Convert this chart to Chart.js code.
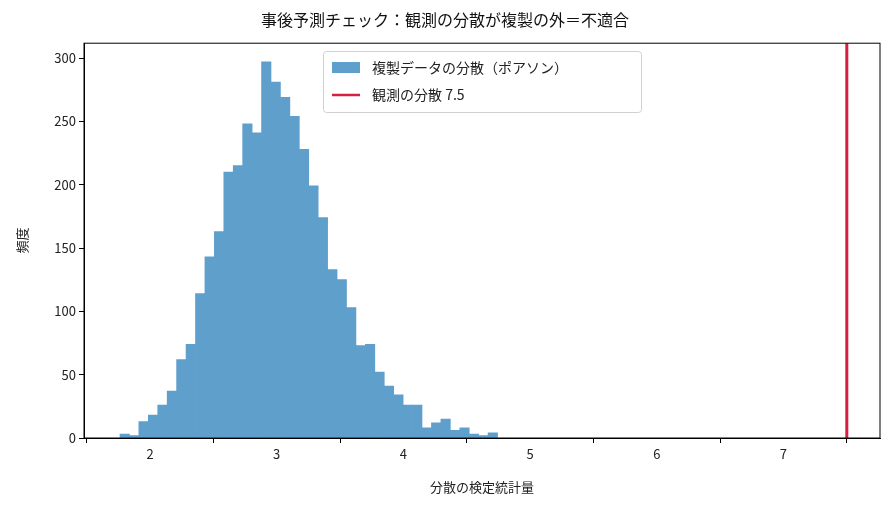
<!DOCTYPE html>
<html><head><meta charset="utf-8">
<script src="https://cdn.jsdelivr.net/npm/chart.js@4"></script>
<style>body{margin:0;background:#fff}#c{display:block}</style>
</head><body>
<div style="width:894px;height:507px"><canvas id="c"></canvas></div>
<script>
const binStart = 1.763;
const binWidth = 0.0745;
const counts = [3,2,13,18,26,37,62,74,114,143,163,210,215,248,241,297,281,269,254,228,
                199,174,133,125,103,73,74,52,41,34,26,26,8,12,15,6,8,3,2,4];
const observedVar = 7.5;
const xTicks = [2,3,4,5,6,7];
const yTicks = [0,50,100,150,200,250,300];

const FONT = '"Noto Sans CJK JP", "Noto Sans", sans-serif';
const histData = counts.map((c, i) => ({x: binStart + binWidth * (i + 0.5), y: c}));

const legendPlugin = {
  id: 'boxLegend',
  afterDraw(chart) {
    const ctx = chart.ctx;
    const a = chart.chartArea;
    ctx.save();
    ctx.strokeStyle = '#000'; ctx.lineWidth = 1;
    ctx.strokeRect(a.left, a.top, a.right - a.left, a.bottom - a.top);
    const x = 323, y = 51, w = 318, h = 61;
    ctx.fillStyle = 'rgba(255,255,255,0.85)';
    ctx.strokeStyle = '#d0d0d0';
    ctx.beginPath(); ctx.roundRect(x + 0.5, y + 0.5, w, h, 3); ctx.fill(); ctx.stroke();
    ctx.fillStyle = '#5f9fcb';
    ctx.fillRect(x + 9, y + 11, 28, 11);
    ctx.strokeStyle = '#d62043'; ctx.lineWidth = 2.5;
    ctx.beginPath(); ctx.moveTo(x + 9, y + 44); ctx.lineTo(x + 37, y + 44); ctx.stroke();
    ctx.fillStyle = '#222'; ctx.font = '14px ' + FONT; ctx.textBaseline = 'middle';
    ctx.fillText('複製データの分散（ポアソン）', x + 49, y + 17);
    ctx.fillText('観測の分散 7.5', x + 49, y + 44);
    ctx.restore();
  }
};

const tickGrid = {display: true, drawOnChartArea: false, drawTicks: true, tickLength: 5, color: '#000'};

new Chart(document.getElementById('c'), {
  type: 'bar',
  data: {
    datasets: [{
      label: '複製データの分散（ポアソン）',
      data: histData,
      backgroundColor: '#5f9fcb',
      barPercentage: 1, categoryPercentage: 1, borderWidth: 0
    }, {
      type: 'line',
      label: '観測の分散 7.5',
      data: [{x: observedVar, y: 0}, {x: observedVar, y: 312}],
      borderColor: '#d62043', borderWidth: 3, pointRadius: 0
    }]
  },
  options: {
    responsive: true, maintainAspectRatio: false, animation: false,
    layout: {padding: {left: 10, right: 14, bottom: 8, top: 0}},
    plugins: {
      legend: {display: false},
      tooltip: {enabled: false},
      title: {display: true, text: '事後予測チェック：観測の分散が複製の外＝不適合',
        color: '#111', font: {family: FONT, size: 16, weight: 'normal'}, padding: {top: 10, bottom: 14}}
    },
    scales: {
      x: {
        type: 'linear', min: 1.479, max: 7.762, offset: false,
        grid: tickGrid,
        border: {color: '#000'},
        afterBuildTicks: s => { s.ticks = xTicks.map(v => ({value: v})); },
        ticks: {color: '#222', font: {family: FONT, size: 13}, maxRotation: 0},
        title: {display: true, text: '分散の検定統計量', color: '#222', font: {family: FONT, size: 13}},
        afterFit: s => { s.height = 61; }
      },
      y: {
        min: 0, max: 311.7,
        grid: tickGrid,
        border: {color: '#000'},
        afterBuildTicks: s => { s.ticks = yTicks.map(v => ({value: v})); },
        ticks: {color: '#222', font: {family: FONT, size: 13}},
        title: {display: true, text: '頻度', color: '#222', font: {family: FONT, size: 13}},
        afterFit: s => { s.width = 74; }
      }
    }
  },
  plugins: [legendPlugin]
});
</script>
</body></html>
